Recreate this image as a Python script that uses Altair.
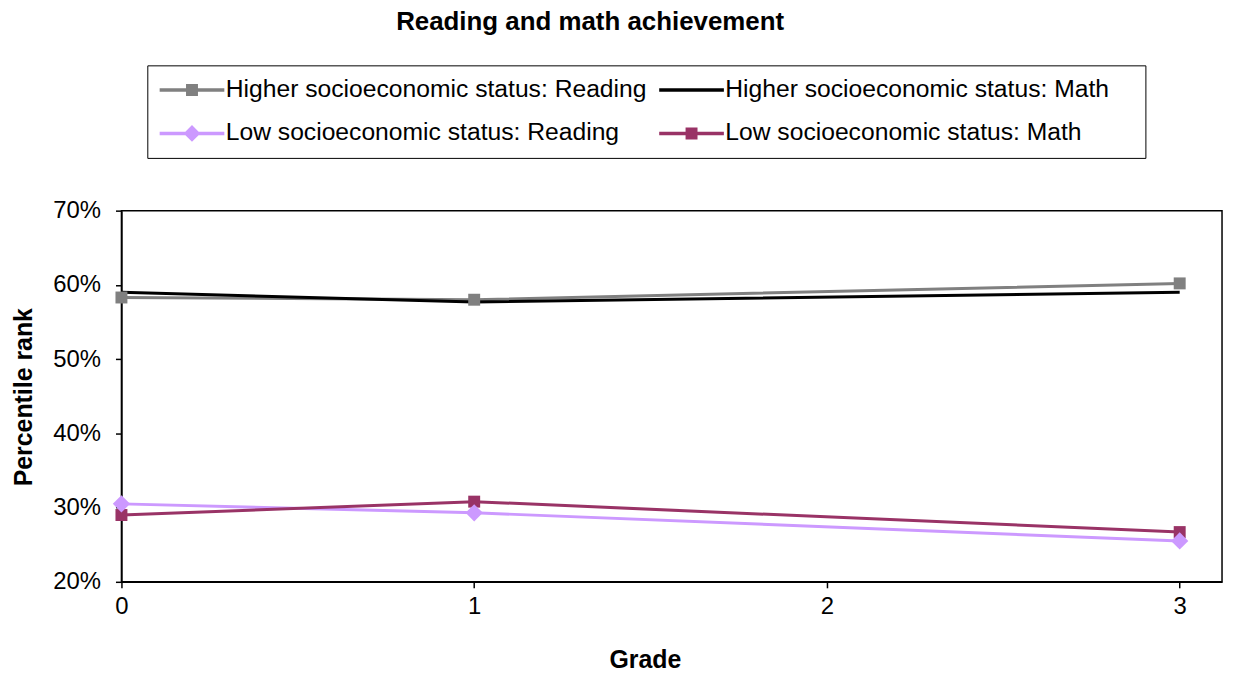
import altair as alt
import pandas as pd

series = ["Higher socioeconomic status: Reading", "Higher socioeconomic status: Math",
          "Low socioeconomic status: Reading", "Low socioeconomic status: Math"]
grades = [0, 1, 3]
higher_reading = [0.583, 0.580, 0.602]
higher_math = [0.590, 0.577, 0.590]
low_reading = [0.305, 0.293, 0.255]
low_math = [0.290, 0.308, 0.267]
colors = ["#808080", "#000000", "#CC99FF", "#993366"]
y_ticks = [0.2, 0.3, 0.4, 0.5, 0.6, 0.7]
x_max = 3.12
x_ticks = [0, 1, 2, 3]

rows = []
for name, col, vals in zip(series, colors, [higher_reading, higher_math, low_reading, low_math]):
    for g, v in zip(grades, vals):
        rows.append({"series": name, "col": col, "grade": g, "value": v})
df = pd.DataFrame(rows)

# legend symbols: line with marker (custom paths, unit = 12px)
line_p = "M-2.708,-0.15L2.708,-0.15L2.708,0.15L-2.708,0.15Z"
sq_p = "M-0.5,-0.5L0.5,-0.5L0.5,0.5L-0.5,0.5Z"
dia_p = "M0,-0.7L0.7,0L0,0.7L-0.7,0Z"
legend_paths = [line_p + sq_p, line_p, line_p + dia_p, line_p + sq_p]

FONT = "Liberation Sans"

xenc = alt.X("grade:Q", scale=alt.Scale(domain=[0, x_max], nice=False, zero=False),
             axis=alt.Axis(values=x_ticks, format="d", title="Grade", labelPadding=7,
                           labelFlush=False,
                           titleX=526, titleY=78, titleBaseline="middle", titleAlign="center"))
yenc = alt.Y("value:Q", scale=alt.Scale(domain=[0.2, 0.7], nice=False, zero=False),
             axis=alt.Axis(values=y_ticks, format=".0%", title="Percentile rank", labelPadding=15,
                           labelFlush=False,
                           titleX=-98, titleY=187, titleAngle=270, titleBaseline="middle",
                           titleAlign="center"))

base = alt.Chart(df)

lines = base.mark_line(strokeWidth=3).encode(
    x=xenc, y=yenc, detail="series:N",
    stroke=alt.Stroke("col:N", scale=None),
)

squares = base.transform_filter(
    alt.FieldOneOfPredicate(field="series", oneOf=[series[0], series[3]])
).mark_point(shape="square", filled=True, size=144, opacity=1).encode(
    x=xenc, y=yenc,
    fill=alt.Fill("col:N", scale=None),
)

diamonds = base.transform_filter(
    alt.FieldEqualPredicate(field="series", equal=series[2])
).mark_point(shape="diamond", filled=True, size=300, opacity=1).encode(
    x=xenc, y=yenc,
    fill=alt.Fill("col:N", scale=None),
)

leg = alt.Legend(
    title=" ", titleOrient="right", titlePadding=24, titleFontSize=24,
    orient="none", legendX=26, legendY=-146, columns=2, gridAlign="all",
    direction="horizontal",
    columnPadding=12, rowPadding=18, padding=12, strokeColor="black", fillColor="white",
    labelFont=FONT, labelFontSize=24.8, labelColor="black", labelLimit=1000,
    labelOffset=21.5, symbolOffset=20.5, symbolSize=576, symbolStrokeWidth=0,
    symbolFillColor="black", symbolOpacity=1,
)

legend_layer = base.transform_filter("false").mark_point(filled=True, size=576, opacity=1).encode(
    x=xenc, y=yenc,
    color=alt.Color("series:N", scale=alt.Scale(domain=series, range=colors), legend=leg),
    shape=alt.Shape("series:N", scale=alt.Scale(domain=series, range=legend_paths), legend=leg),
)

chart = alt.layer(lines, squares, diamonds, legend_layer).properties(
    width=1106, height=373,
    autosize=alt.AutoSizeParams(type="none"),
    padding={"left": 114, "top": 202, "right": 5, "bottom": 92},
    background="white",
    title=alt.TitleParams("Reading and math achievement", font=FONT, fontSize=26,
                          fontWeight="bold", color="black", anchor="middle",
                          frame="group", dx=-82, dy=-26),
).configure_view(
    stroke="black", strokeWidth=1.5
).configure_axis(
    grid=False, domainColor="black", domainWidth=1.5, tickColor="black", tickWidth=1.5,
    tickSize=6, labelFont=FONT, labelFontSize=24, labelColor="black",
    titleFont=FONT, titleFontSize=25, titleFontWeight="bold", titleColor="black",
)

chart.save("out.html", embed_options={"renderer": "svg", "actions": False})
